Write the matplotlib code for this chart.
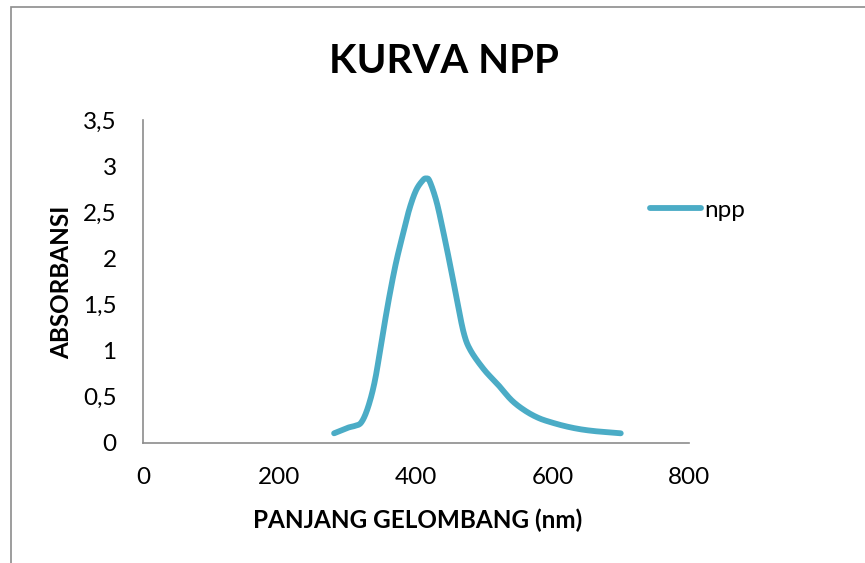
import numpy as np
import matplotlib
matplotlib.use("Agg")
import matplotlib.pyplot as plt
from matplotlib.patches import Rectangle

# ---- data ----
wavelength = [280, 300, 310, 320, 330, 340, 350, 360, 370, 380, 390, 400, 410, 415,
              420, 430, 440, 450, 460, 470, 480, 500, 520, 540, 560, 580, 600,
              620, 640, 660, 680, 700]
absorbance = [0.10, 0.16, 0.18, 0.22, 0.39, 0.68, 1.12, 1.55, 1.93, 2.24, 2.53, 2.74, 2.85, 2.87,
              2.84, 2.62, 2.29, 1.93, 1.55, 1.19, 1.00, 0.79, 0.63, 0.46, 0.345, 0.265, 0.215,
              0.175, 0.145, 0.125, 0.112, 0.10]
series_name = "npp"
x_ticks = [0, 200, 400, 600, 800]
y_ticks = [0, 0.5, 1, 1.5, 2, 2.5, 3, 3.5]
title = "KURVA NPP"
x_label = "PANJANG GELOMBANG (nm)"
y_label = "ABSORBANSI"


def smooth(xs, ys, n=20):
    """Catmull-Rom smoothing (like a spreadsheet 'smoothed line')."""
    xs = np.asarray(xs, float)
    ys = np.asarray(ys, float)
    px = np.concatenate([[2 * xs[0] - xs[1]], xs, [2 * xs[-1] - xs[-2]]])
    py = np.concatenate([[2 * ys[0] - ys[1]], ys, [2 * ys[-1] - ys[-2]]])
    ox, oy = [], []
    t = np.linspace(0, 1, n, endpoint=False)
    for i in range(1, len(px) - 2):
        for arr, out in ((px, ox), (py, oy)):
            p0, p1, p2, p3 = arr[i - 1], arr[i], arr[i + 1], arr[i + 2]
            out.extend(0.5 * ((2 * p1) + (-p0 + p2) * t
                              + (2 * p0 - 5 * p1 + 4 * p2 - p3) * t ** 2
                              + (-p0 + 3 * p1 - 3 * p2 + p3) * t ** 3))
    ox.append(xs[-1])
    oy.append(ys[-1])
    return np.array(ox), np.array(oy)


W, H = 865, 563
fig = plt.figure(figsize=(W / 100, H / 100), dpi=100)
fig.patch.set_facecolor("white")

font = "Lato"
plt.rcParams["font.family"] = [font, "DejaVu Sans"]
FS = 17.5

# outer chart border (left and top visible)
fig.patches.append(Rectangle((11 / W, -0.1), 1.2, (H - 7) / H + 0.1,
                             transform=fig.transFigure, fill=False,
                             edgecolor="#8c8c8c", linewidth=1.2))

ax = fig.add_axes([143 / W, (H - 442.5) / H, (689 - 143) / W, (442.5 - 120.5) / H])
sx, sy = smooth(wavelength, absorbance)
ax.plot(sx, sy, color="#4BACC6", linewidth=4.2, solid_capstyle="round",
        solid_joinstyle="round", label=series_name)

ax.set_xlim(0, 800)
ax.set_ylim(0, 3.5)
ax.set_xticks(x_ticks)
ax.set_yticks(y_ticks)
ax.set_xticklabels([str(v) for v in x_ticks])
ax.set_yticklabels([("%g" % v).replace(".", ",") for v in y_ticks])
ax.tick_params(axis="both", length=0, labelsize=FS, colors="black")
ax.tick_params(axis="x", pad=18)
ax.tick_params(axis="y", pad=19)

for s in ("top", "right"):
    ax.spines[s].set_visible(False)
for s in ("left", "bottom"):
    ax.spines[s].set_color("#8c8c8c")
    ax.spines[s].set_linewidth(1.2)

fig.text(444 / W, 1 - 61 / H, title, ha="center", va="center",
         fontsize=29, fontweight="bold")
fig.text(418 / W, 1 - 520 / H, x_label, ha="center", va="center",
         fontsize=FS, fontweight="bold")
fig.text(62 / W, 1 - 282 / H, y_label, ha="center", va="center",
         fontsize=FS, fontweight="bold", rotation=90)

ax.legend(loc="center left", bbox_to_anchor=(650 / W, 1 - 210 / H),
          bbox_transform=fig.transFigure, frameon=False, fontsize=FS,
          handlelength=2.1, handletextpad=0.15, borderpad=0, borderaxespad=0)

fig.savefig("out.png", dpi=100, facecolor="white")
